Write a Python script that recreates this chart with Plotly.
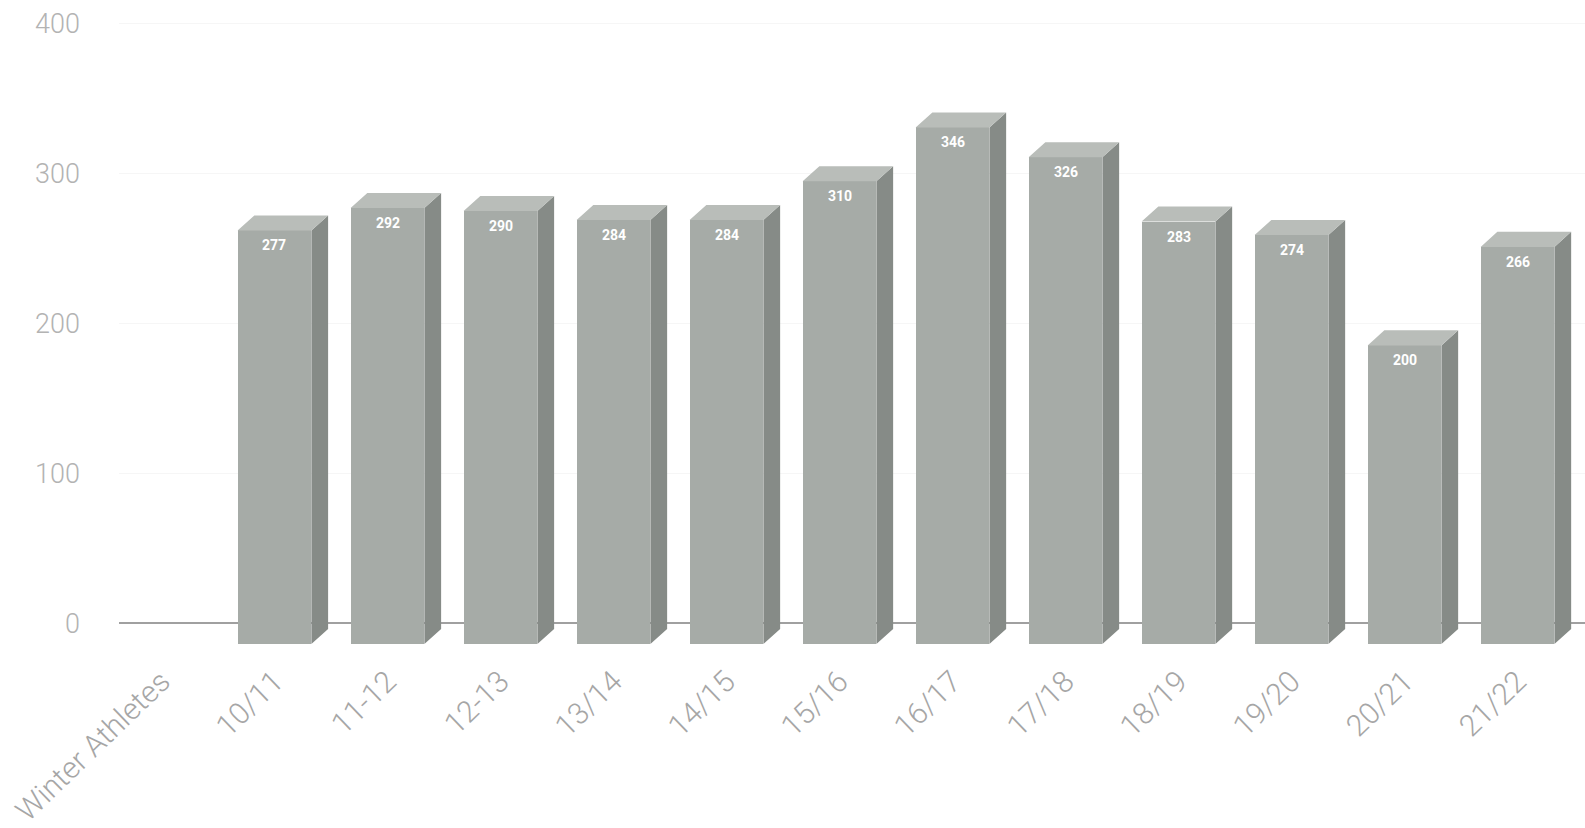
import plotly.graph_objects as go

# Season labels along the category axis (first slot holds the series name)
categories = ["Winter Athletes", "10/11", "11-12", "12-13", "13/14", "14/15", "15/16",
              "16/17", "17/18", "18/19", "19/20", "20/21", "21/22"]
# Athlete counts per season (no bar in the first slot)
athletes = [None, 277, 292, 290, 284, 284, 310, 346, 326, 283, 274, 200, 266]
y_ticks = [0, 100, 200, 300, 400]

bar_w = 0.653      # front face width, category units
depth_x = 0.148    # extrusion toward the back, category units
depth_y = 10.1     # extrusion toward the back, value units

front_col = "#a6aba7"
top_col = "#b9bdb9"
side_col = "#868b87"

pos = list(range(len(categories)))
bx = [p for p, v in zip(pos, athletes) if v is not None]
bv = [v for v in athletes if v is not None]

fig = go.Figure()

# empty trace so the value axis (grid, zero line, tick labels) is drawn
fig.add_trace(go.Scatter(x=[], y=[], mode="lines", yaxis="y",
                         hoverinfo="skip", showlegend=False))

# front faces
fig.add_trace(go.Bar(
    x=bx, y=bv, width=bar_w, yaxis="y2",
    marker=dict(color=front_col, line=dict(width=0)),
    hoverinfo="skip", showlegend=False,
))

# top and side faces built from each bar's value
top_x, top_y, side_x, side_y = [], [], [], []
for p, v in zip(bx, bv):
    x0, x1 = p - bar_w / 2, p + bar_w / 2
    top_x += [x0, x1, x1 + depth_x, x0 + depth_x, x0, None]
    top_y += [v, v, v + depth_y, v + depth_y, v, None]
    side_x += [x1, x1, x1 + depth_x, x1 + depth_x, x1, None]
    side_y += [0, v, v + depth_y, depth_y, 0, None]

fig.add_trace(go.Scatter(x=side_x, y=side_y, yaxis="y2", mode="lines", fill="toself",
                         fillcolor=side_col, line=dict(width=0, color=side_col),
                         hoverinfo="skip", showlegend=False))
fig.add_trace(go.Scatter(x=top_x, y=top_y, yaxis="y2", mode="lines", fill="toself",
                         fillcolor=top_col, line=dict(width=0, color=top_col),
                         hoverinfo="skip", showlegend=False))

# value labels near the top of each front face
for p, v in zip(bx, bv):
    fig.add_annotation(x=p, y=v, xref="x", yref="y2", text=str(v), showarrow=False,
                       yshift=-15, font=dict(family="Liberation Sans Narrow, Roboto",
                                             size=14, color="white", weight="bold"))

fig.update_layout(
    width=1585, height=828,
    margin=dict(l=119, r=0, t=10, b=178),
    paper_bgcolor="white", plot_bgcolor="white",
    font=dict(family="Roboto", color="#9c9c9c"),
    xaxis=dict(
        range=[-0.376, 12.597], tickmode="array", tickvals=pos, ticktext=categories,
        tickangle=-44, tickfont=dict(size=30, color="#a6a6a6", weight=300),
        showgrid=False, zeroline=False, showline=False, ticks="",
        ticklabelstandoff=10,
    ),
    yaxis=dict(
        range=[-15.9, 409.0], tickmode="array", tickvals=y_ticks,
        tickfont=dict(size=27, color="#b3b3b3", weight=300),
        showgrid=True, gridcolor="#f6f6f6", gridwidth=1,
        zeroline=True, zerolinecolor="#a0a0a0", zerolinewidth=2,
        showline=False, ticks="", ticklabelstandoff=38,
    ),
    yaxis2=dict(
        range=[-2.0, 424.7], overlaying="y", visible=False,
    ),
    bargap=0,
)

fig.write_html("out.html")
